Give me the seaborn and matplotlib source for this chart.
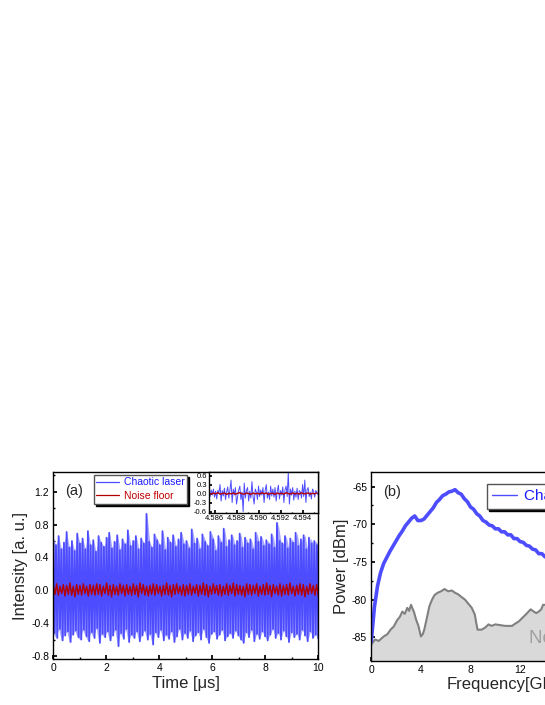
import numpy as np
import pandas as pd
import matplotlib
matplotlib.use("Agg")
import matplotlib.pyplot as plt
import seaborn as sns
from matplotlib.lines import Line2D
from matplotlib.ticker import MultipleLocator, FormatStrFormatter

# ---- (a) time trace, upper / lower excursions ----
chaos_hi = [0.62, 0.55, 0.66, 0.50, 0.58, 0.71, 0.52, 0.60, 0.48, 0.69,
            0.57, 0.63, 0.50, 0.72, 0.55, 0.61, 0.47, 0.66, 0.58, 0.53,
            0.64, 0.70, 0.51, 0.59, 0.67, 0.49, 0.62, 0.56, 0.73, 0.54,
            0.60, 0.66, 0.50, 0.63, 0.57, 0.93, 0.59, 0.52, 0.68, 0.61,
            0.55, 0.72, 0.49, 0.64, 0.58, 0.67, 0.53, 0.62, 0.70, 0.56,
            0.60, 0.51, 0.74, 0.57, 0.63, 0.50, 0.68, 0.59, 0.54, 0.71,
            0.62, 0.48, 0.66, 0.58, 0.75, 0.53, 0.61, 0.67, 0.55, 0.60,
            0.69, 0.52, 0.64, 0.57, 0.62, 0.50, 0.70, 0.59, 0.65, 0.54,
            0.61, 0.56, 0.68, 0.52, 0.82, 0.60, 0.57, 0.66, 0.51, 0.63,
            0.58, 0.70, 0.54, 0.62, 0.67, 0.50, 0.64, 0.57, 0.60, 0.55]
chaos_lo = [-0.52, -0.58, -0.47, -0.61, -0.55, -0.50, -0.63, -0.54, -0.49, -0.57,
            -0.60, -0.48, -0.56, -0.62, -0.51, -0.58, -0.46, -0.64, -0.53, -0.57,
            -0.50, -0.61, -0.55, -0.48, -0.68, -0.52, -0.59, -0.47, -0.63, -0.54,
            -0.58, -0.50, -0.62, -0.55, -0.49, -0.60, -0.53, -0.66, -0.51, -0.57,
            -0.48, -0.61, -0.54, -0.59, -0.50, -0.63, -0.56, -0.47, -0.60, -0.52,
            -0.58, -0.49, -0.62, -0.55, -0.51, -0.60, -0.47, -0.57, -0.64, -0.53,
            -0.50, -0.59, -0.54, -0.48, -0.61, -0.56, -0.52, -0.58, -0.49, -0.55,
            -0.60, -0.64, -0.51, -0.57, -0.48, -0.62, -0.53, -0.59, -0.50, -0.56,
            -0.61, -0.54, -0.47, -0.58, -0.52, -0.60, -0.49, -0.56, -0.63, -0.51,
            -0.57, -0.53, -0.60, -0.48, -0.55, -0.62, -0.50, -0.58, -0.54, -0.59]
noise_hi = [0.06, 0.08, 0.05, 0.07, 0.06, 0.09, 0.05, 0.07, 0.06, 0.08,
            0.05, 0.07, 0.06, 0.08, 0.07, 0.05, 0.09, 0.06, 0.07, 0.05,
            0.08, 0.06, 0.07, 0.05, 0.08, 0.06, 0.09, 0.07, 0.05, 0.06,
            0.08, 0.07, 0.05, 0.06, 0.09, 0.06, 0.07, 0.08, 0.05, 0.07,
            0.06, 0.08, 0.05, 0.07, 0.06, 0.09, 0.07, 0.05, 0.08, 0.06,
            0.07, 0.05, 0.08, 0.06, 0.09, 0.07, 0.06, 0.05, 0.08, 0.07,
            0.06, 0.08, 0.05, 0.07, 0.09, 0.06, 0.07, 0.05, 0.08, 0.06,
            0.07, 0.09, 0.05, 0.06, 0.08, 0.07, 0.05, 0.08, 0.06, 0.07]
noise_lo = [-0.05, -0.06, -0.04, -0.07, -0.05, -0.06, -0.08, -0.05, -0.06, -0.04,
            -0.07, -0.05, -0.06, -0.05, -0.07, -0.04, -0.06, -0.08, -0.05, -0.06,
            -0.04, -0.07, -0.05, -0.06, -0.05, -0.08, -0.04, -0.06, -0.07, -0.05,
            -0.06, -0.04, -0.07, -0.05, -0.06, -0.08, -0.05, -0.04, -0.06, -0.07,
            -0.05, -0.06, -0.04, -0.07, -0.05, -0.06, -0.08, -0.05, -0.04, -0.06,
            -0.07, -0.05, -0.06, -0.04, -0.07, -0.05, -0.06, -0.08, -0.05, -0.06,
            -0.04, -0.07, -0.05, -0.06, -0.05, -0.08, -0.04, -0.06, -0.07, -0.05,
            -0.06, -0.04, -0.07, -0.05, -0.06, -0.08, -0.05, -0.04, -0.06, -0.07]

# ---- inset: zoomed trace, 0.1 ns steps from 4.5855 us ----
inset_chaos = [0.05, -0.10, 0.12, -0.05, 0.15, -0.12, 0.08, -0.18, 0.10, 0.02,
               0.30, -0.25, 0.10, -0.08, 0.18, -0.20, 0.05, 0.22, -0.15, 0.12,
               0.45, -0.30, 0.15, -0.05, 0.20, -0.35, -0.10, 0.12, 0.25, -0.20,
               0.05, -0.60, 0.35, -0.15, 0.10, 0.20, -0.25, 0.08, -0.15, 0.40,
               -0.10, -0.35, 0.15, 0.05, -0.20, 0.25, -0.10, 0.12, -0.05, 0.20,
               -0.30, 0.10, 0.30, -0.15, 0.05, -0.20, 0.25, -0.08, 0.15, -0.12,
               0.20, -0.25, 0.08, 0.28, -0.18, 0.10, -0.05, 0.22, -0.30, 0.12,
               0.25, -0.10, 0.70, -0.35, 0.15, -0.05, 0.20, -0.22, 0.08, -0.12,
               0.18, -0.20, 0.10, 0.05, -0.15, 0.30, -0.10, 0.45, -0.30, 0.12,
               0.20, -0.10, 0.05, -0.18, 0.15, 0.08, -0.12, 0.10, 0.05, -0.05]
inset_noise = [0.01, -0.02, 0.02, -0.01, 0.03, -0.02, 0.00, 0.02, -0.03, 0.01,
               -0.01, 0.02, -0.02, 0.01, 0.03, -0.01, -0.02, 0.02, 0.00, -0.03,
               0.02, -0.01, 0.01, -0.02, 0.03, -0.01, 0.02, -0.02, 0.00, 0.01,
               -0.03, 0.02, -0.01, 0.01, -0.02, 0.03, 0.00, -0.02, 0.02, -0.01,
               0.01, -0.02, 0.03, -0.01, 0.00, 0.02, -0.02, 0.01, -0.01, 0.02]

# ---- (b) RF spectra ----
freq_chaos = [0.0, 0.25, 0.5, 0.75, 1.0, 1.25, 1.5, 1.75, 2.0, 2.25,
              2.5, 2.75, 3.0, 3.25, 3.5, 3.75, 4.0, 4.25, 4.5, 4.75,
              5.0, 5.25, 5.5, 5.75, 6.0, 6.25, 6.5, 6.75, 7.0, 7.25,
              7.5, 7.75, 8.0, 8.25, 8.5, 8.75, 9.0, 9.25, 9.5, 9.75,
              10.0, 10.25, 10.5, 10.75, 11.0, 11.25, 11.5, 11.75, 12.0, 12.25,
              12.5, 12.75, 13.0, 13.25, 13.5, 13.75, 14.0, 14.5, 15.0, 16.0,
              17.0, 18.0, 19.0, 20.0, 21.0, 22.0]
power_chaos = [-85.5, -81.0, -78.2, -76.4, -75.2, -74.4, -73.6, -72.9, -72.2, -71.5,
               -70.9, -70.2, -69.7, -69.2, -68.9, -69.5, -69.5, -69.3, -68.8, -68.3,
               -67.8, -67.1, -66.7, -66.2, -66.0, -65.7, -65.6, -65.4, -65.8, -66.0,
               -66.6, -67.0, -67.7, -68.0, -68.6, -68.9, -69.5, -69.7, -70.1, -70.2,
               -70.6, -70.6, -71.0, -71.0, -71.4, -71.4, -71.9, -71.9, -72.3, -72.4,
               -72.8, -72.9, -73.3, -73.4, -73.9, -73.9, -74.3, -74.8, -75.3, -76.0,
               -76.8, -77.5, -78.2, -79.0, -79.8, -80.5]
freq_noise = [0.0, 0.3, 0.6, 1.0, 1.3, 1.55, 1.8, 2.1, 2.3, 2.5,
              2.7, 2.9, 3.05, 3.2, 3.35, 3.45, 3.6, 3.8, 4.0, 4.15,
              4.27, 4.5, 4.68, 4.9, 5.1, 5.35, 5.63, 5.9, 6.2, 6.5,
              6.75, 7.0, 7.3, 7.55, 7.8, 8.1, 8.35, 8.45, 8.57, 8.9,
              9.2, 9.45, 9.7, 10.0, 10.4, 10.8, 11.35, 11.6, 11.9, 12.2,
              12.45, 12.85, 13.1, 13.3, 13.5, 13.7, 13.85, 14.2, 15.0, 16.0,
              17.0, 18.0, 19.0, 20.0, 21.0, 22.0]
power_noise = [-86.0, -85.3, -85.5, -84.9, -84.6, -84.0, -83.6, -82.7, -82.3, -81.6,
               -81.9, -81.1, -81.5, -80.7, -81.3, -81.7, -82.6, -83.5, -84.9, -84.6,
               -84.0, -82.3, -80.9, -80.0, -79.4, -79.1, -78.9, -78.6, -78.9, -78.8,
               -79.1, -79.3, -79.7, -80.0, -80.5, -81.1, -82.0, -83.0, -84.0, -84.0,
               -83.7, -83.3, -83.5, -83.3, -83.4, -83.5, -83.5, -83.2, -82.9, -82.4,
               -82.0, -81.3, -81.6, -81.8, -81.6, -81.3, -80.7, -80.7, -81.2, -81.8,
               -82.3, -82.8, -83.3, -83.8, -84.2, -84.5]

BLUE = "#4d4dff"
LIGHT_BLUE = "#a8a8ff"
RED = "#b40000"

sns.set_theme(style="ticks", rc={
    "xtick.direction": "in", "ytick.direction": "in",
    "xtick.major.size": 3, "ytick.major.size": 3,
    "xtick.minor.size": 1.6, "ytick.minor.size": 1.6,
    "axes.linewidth": 1.0, "axes.edgecolor": "black",
    "xtick.color": "black", "ytick.color": "black",
    "axes.unicode_minus": False,
})
plt.rcParams["font.family"] = ["Liberation Sans", "DejaVu Sans"]

fig = plt.figure(figsize=(5.45, 7.05), dpi=100)
ax1 = fig.add_axes([0.0978, 0.0648, 0.4862, 0.2657])
ax2 = fig.add_axes([0.6813, 0.0631, 0.5006, 0.2674])
ins = fig.add_axes([0.3835, 0.2723, 0.2, 0.0582])

# zigzag traces built from the hi/lo excursions
t_env = np.linspace(0, 10, len(chaos_hi))
chaos_df = pd.DataFrame({
    "t": np.linspace(0, 10, 2 * len(chaos_hi)),
    "v": np.column_stack([chaos_hi, chaos_lo]).ravel(),
})
t_noise = np.linspace(0, 10, len(noise_hi))
noise_df = pd.DataFrame({
    "t": np.linspace(0, 10, 2 * len(noise_hi)),
    "v": np.column_stack([noise_hi, noise_lo]).ravel(),
})
ax1.fill_between(t_env, chaos_lo, chaos_hi, color=LIGHT_BLUE, lw=0)
sns.lineplot(data=chaos_df, x="t", y="v", ax=ax1, color=BLUE, lw=1.3,
             sort=False, estimator=None)
ax1.fill_between(t_noise, noise_lo, noise_hi, color=RED, lw=0)
sns.lineplot(data=noise_df, x="t", y="v", ax=ax1, color=RED, lw=1.0,
             sort=False, estimator=None)
ax1.set_xlim(0, 10)
ax1.set_ylim(-0.84, 1.44)
ax1.xaxis.set_major_locator(MultipleLocator(2))
ax1.xaxis.set_minor_locator(MultipleLocator(1))
ax1.yaxis.set_major_locator(MultipleLocator(0.4))
ax1.yaxis.set_minor_locator(MultipleLocator(0.2))
ax1.yaxis.set_major_formatter(FormatStrFormatter("%.1f"))
ax1.tick_params(labelsize=7.5, pad=3)
ax1.tick_params(which="minor", length=1.6)
ax1.set_xlabel("Time [μs]", fontsize=12, labelpad=2)
ax1.set_ylabel("Intensity [a. u.]", fontsize=12, labelpad=2)
ax1.text(0.044, 0.9, "(a)", transform=ax1.transAxes, fontsize=10.5,
         va="center", ha="left")
handles = [Line2D([], [], color=BLUE, lw=0.9), Line2D([], [], color=RED, lw=0.9)]
ax1.legend(handles, ["Chaotic laser", "Noise floor"], loc="upper left",
           bbox_to_anchor=(0.153, 0.985), borderaxespad=0, fontsize=7.5,
           labelcolor=["#1a1aff", "#c00000"], fancybox=False, framealpha=1,
           edgecolor="#555555", borderpad=0.25, handlelength=2.2,
           handletextpad=0.4, labelspacing=0.35,
           shadow={"ox": 1.5, "oy": -1.5, "color": "black", "alpha": 1})

# inset
inset_df = pd.DataFrame({
    "t": 4.5855 + 0.0001 * np.arange(len(inset_chaos)),
    "v": inset_chaos,
})
inset_noise_df = pd.DataFrame({
    "t": 4.5855 + 0.0002 * np.arange(len(inset_noise)),
    "v": inset_noise,
})
sns.lineplot(data=inset_df, x="t", y="v", ax=ins, color=BLUE, lw=0.7,
             sort=False, estimator=None)
sns.lineplot(data=inset_noise_df, x="t", y="v", ax=ins, color=RED, lw=1.0,
             sort=False, estimator=None)
ins.set_xlim(4.5855, 4.5954)
ins.set_ylim(-0.65, 0.72)
ins.set_xticks([4.586, 4.588, 4.590, 4.592, 4.594])
ins.xaxis.set_minor_locator(MultipleLocator(0.001))
ins.xaxis.set_major_formatter(FormatStrFormatter("%.3f"))
ins.set_yticks([-0.6, -0.3, 0.0, 0.3, 0.6])
ins.yaxis.set_major_formatter(FormatStrFormatter("%.1f"))
ins.tick_params(labelsize=5.5, pad=1.5, length=2)
ins.tick_params(which="minor", length=1)
ins.set_xlabel("")
ins.set_ylabel("")
ins.set_facecolor("white")

# (b) spectrum
ax2.fill_between(freq_noise, power_noise, -90, color="#d9d9d9", lw=0)
sns.lineplot(x=freq_noise, y=power_noise, ax=ax2, color="#808080", lw=1.5,
             sort=False, estimator=None)
sns.lineplot(x=freq_chaos, y=power_chaos, ax=ax2, color=BLUE, lw=2.6,
             sort=False, estimator=None)
ax2.set_xlim(0, 22)
ax2.set_ylim(-88.1, -63.05)
ax2.xaxis.set_major_locator(MultipleLocator(4))
ax2.xaxis.set_minor_locator(MultipleLocator(2))
ax2.yaxis.set_major_locator(MultipleLocator(5))
ax2.yaxis.set_minor_locator(MultipleLocator(2.5))
ax2.tick_params(labelsize=7.5, pad=3)
ax2.tick_params(which="minor", length=1.6)
ax2.set_xlabel("Frequency[GHz]", fontsize=12, labelpad=2)
ax2.set_ylabel("Power [dBm]", fontsize=12, labelpad=2)
ax2.text(0.044, 0.892, "(b)", transform=ax2.transAxes, fontsize=10.5,
         va="center", ha="left")
ax2.text(0.578, 0.119, "Noise floor", transform=ax2.transAxes, fontsize=13.5,
         color="#a0a0a0", va="center", ha="left")
ax2.legend([Line2D([], [], color=BLUE, lw=1.0)], ["Chaotic laser"],
           loc="upper left", bbox_to_anchor=(0.424, 0.936), borderaxespad=0,
           fontsize=11, labelcolor=["#1a1aff"], fancybox=False, framealpha=1,
           edgecolor="#555555", borderpad=0.35, handlelength=1.6,
           handletextpad=0.5,
           shadow={"ox": 1.5, "oy": -1.5, "color": "black", "alpha": 1})

fig.savefig("out.png", dpi=100)
